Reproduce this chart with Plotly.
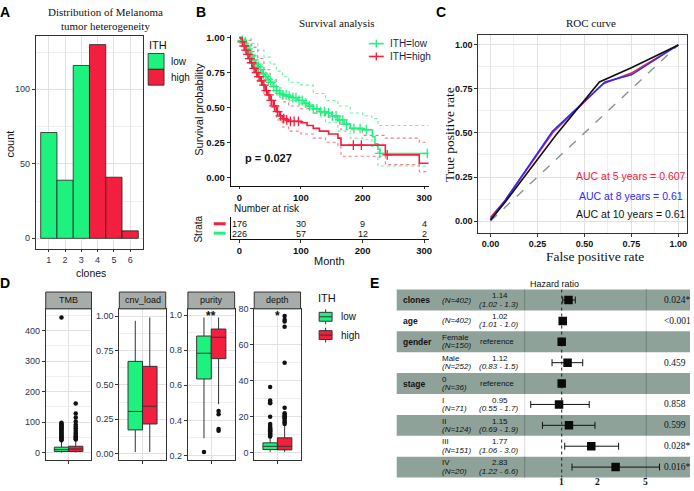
import math
import plotly.graph_objects as go

W, H = 694, 491


def fx(v):
    return v / W


def fy(v):
    return 1 - v / H


GREEN = '#1ef27e'
RED = '#f2203e'
GREEN_CI = '#6ef0a6'
RED_CI = '#f57a8a'
SANS = 'Liberation Sans, Arial, sans-serif'
SERIF = 'Liberation Serif, Times New Roman, serif'
TICK = '#2c3350'
GRID = '#e2e2e2'
MINOR = '#efefef'
FRAME = '#333333'
SHADE = '#8fa29a'

# ---------------- Panel A data ----------------
clones = [1, 2, 3, 4, 5, 6]
clone_counts = [71, 39, 116, 130, 41, 5]
clone_group = ['low', 'low', 'low', 'high', 'high', 'high']

# ---------------- Panel B data (Kaplan-Meier) ----------------
km_low_t = [0, 3, 6, 9, 12, 15, 18, 22, 26, 30, 34, 38, 42, 46, 50, 55, 60, 65, 70, 78, 86, 95,
            105, 112, 120, 130, 140, 150, 160, 170, 180, 200, 216, 220, 225, 228, 310]
km_low_s = [1.0, 0.98, 0.96, 0.94, 0.92, 0.90, 0.87, 0.84, 0.81, 0.79, 0.77, 0.74, 0.72, 0.70,
            0.68, 0.65, 0.62, 0.60, 0.59, 0.58, 0.57, 0.55, 0.53, 0.51, 0.49, 0.47, 0.46, 0.44,
            0.41, 0.38, 0.35, 0.34, 0.29, 0.24, 0.20, 0.17, 0.17]
km_high_t = [0, 3, 6, 9, 12, 15, 18, 22, 26, 30, 34, 38, 42, 46, 50, 55, 60, 65, 70, 75, 80, 90,
             100, 110, 120, 130, 145, 160, 165, 237, 292, 310]
km_high_s = [1.0, 0.97, 0.94, 0.91, 0.88, 0.85, 0.82, 0.78, 0.75, 0.72, 0.69, 0.66, 0.62, 0.59,
             0.55, 0.51, 0.47, 0.44, 0.42, 0.41, 0.40, 0.40, 0.39, 0.37, 0.35, 0.33, 0.31, 0.28,
             0.23, 0.16, 0.10, 0.10]
ci_t = [0, 10, 20, 30, 40, 50, 60, 70, 80, 100, 120, 140, 160, 180, 200, 215, 225, 310]
ci_low_up = [1.0, 0.99, 0.96, 0.91, 0.86, 0.81, 0.76, 0.72, 0.68, 0.66, 0.60, 0.55, 0.51, 0.46,
             0.44, 0.42, 0.37, 0.37]
ci_low_lo = [1.0, 0.95, 0.88, 0.81, 0.75, 0.69, 0.64, 0.58, 0.55, 0.52, 0.46, 0.39, 0.33, 0.28,
             0.27, 0.22, 0.08, 0.08]
ci_high_t = [0, 10, 20, 30, 40, 50, 60, 70, 80, 100, 120, 140, 160, 165, 200, 237, 292, 310]
ci_high_up = [1.0, 0.98, 0.93, 0.85, 0.77, 0.70, 0.60, 0.54, 0.51, 0.49, 0.46, 0.43, 0.40, 0.34,
              0.30, 0.28, 0.25, 0.25]
ci_high_lo = [1.0, 0.88, 0.79, 0.68, 0.59, 0.50, 0.41, 0.36, 0.33, 0.31, 0.28, 0.25, 0.22, 0.15,
              0.15, 0.09, 0.04, 0.04]
censor_low_t = [5, 8, 11, 14, 17, 20, 24, 27, 31, 35, 39, 43, 47, 51, 56, 61, 66, 71, 76, 81, 87,
                92, 97, 102, 108, 114, 120, 126, 132, 138, 145, 151, 157, 163, 168, 174, 186,
                196, 206, 228, 305]
censor_high_t = [5, 8, 11, 14, 17, 20, 24, 28, 32, 36, 40, 44, 48, 52, 57, 62, 67, 72, 77, 83,
                 89, 96, 185, 198, 240]
risk_times = [0, 100, 200, 300]
risk_high = [176, 30, 9, 4]
risk_low = [226, 57, 12, 2]

# ---------------- Panel C data ----------------
roc5_fpr = [0.0, 0.08, 0.33, 0.60, 0.75, 1.0]
roc5_tpr = [0.02, 0.12, 0.50, 0.78, 0.84, 1.0]
roc8_fpr = [0.0, 0.08, 0.33, 0.61, 0.75, 1.0]
roc8_tpr = [0.01, 0.12, 0.51, 0.79, 0.83, 1.0]
roc10_fpr = [0.0, 0.08, 0.35, 0.58, 0.75, 1.0]
roc10_tpr = [0.005, 0.11, 0.49, 0.79, 0.87, 1.0]
auc_labels = ['AUC at 5 years = 0.607', 'AUC at 8 years = 0.61', 'AUC at 10 years = 0.61']

# ---------------- Panel D data (box statistics) ----------------
facets = ['TMB', 'cnv_load', 'purity', 'depth']
box_low = {  # q1, median, q3, lower whisker, upper whisker
    'TMB': [4, 10, 18, 0.3, 39],
    'cnv_load': [0.173, 0.307, 0.671, 0.012, 0.966],
    'purity': [0.636, 0.783, 0.881, 0.298, 0.987],
    'depth': [1.8, 3.6, 5.5, 0.5, 8.6],
}
box_high = {
    'TMB': [4, 12, 21, 0.3, 42],
    'cnv_load': [0.216, 0.345, 0.635, 0.012, 0.99],
    'purity': [0.752, 0.874, 0.921, 0.492, 0.987],
    'depth': [1.6, 3.6, 8.3, 0.5, 15],
}
out_low = {
    'TMB': [443, 98, 95, 92, 89, 86, 83, 80, 77, 74, 71, 68, 65, 62, 59, 56, 53, 50, 47, 44, 41],
    'cnv_load': [],
    'purity': [0.219],
    'depth': [36.5, 29, 28, 27.5, 20, 16, 15, 14, 13.5, 13, 12.5, 12, 11.5, 11, 10.5, 10, 9.5, 9],
}
out_high = {
    'TMB': [161, 128, 115, 102, 92, 86, 80, 74, 68, 63, 58, 54, 50, 46, 43],
    'cnv_load': [],
    'purity': [0.454, 0.435, 0.351, 0.341],
    'depth': [76, 74, 73, 70, 50, 25, 22, 21, 20.5, 20, 19.5, 19, 18, 17, 16],
}
signif = {'TMB': '', 'cnv_load': '', 'purity': '**', 'depth': '*'}

# ---------------- Panel E data (hazard ratios) ----------------
hr_vars = ['clones', 'age', 'gender', '', 'stage', '', '', '', '']
hr_levels = ['', '', 'Female', 'Male', '0', 'I', 'II', 'III', 'IV']
hr_n = ['(N=402)', '(N=402)', '(N=150)', '(N=252)', '(N=36)', '(N=71)', '(N=124)', '(N=151)', '(N=20)']
hr_est = [1.14, 1.02, 1.0, 1.12, 1.0, 0.95, 1.15, 1.77, 2.83]
hr_lo = [1.02, 1.01, None, 0.83, None, 0.55, 0.69, 1.06, 1.22]
hr_hi = [1.3, 1.03, None, 1.5, None, 1.7, 1.9, 3.0, 6.6]
hr_est_text = ['1.14', '1.02', 'reference', '1.12', 'reference', '0.95', '1.15', '1.77', '2.83']
hr_ci_text = ['(1.02 - 1.3)', '(1.01 - 1.0)', '', '(0.83 - 1.5)', '', '(0.55 - 1.7)',
              '(0.69 - 1.9)', '(1.06 - 3.0)', '(1.22 - 6.6)']
hr_p = ['0.024*', '<0.001', '', '0.459', '', '0.858', '0.599', '0.028*', '0.016*']
hr_ticks = [1, 2, 5]

fig = go.Figure()
ann = []
shapes = []

# ================= Panel A =================
fig.add_trace(go.Bar(
    x=clones, y=clone_counts, width=1,
    marker=dict(color=[GREEN if g == 'low' else RED for g in clone_group],
                line=dict(color='#222222', width=0.8)),
    xaxis='x', yaxis='y'))
ann += [
    dict(x=fx(106), y=fy(7), text='Distribution of Melanoma', font=dict(family=SERIF, size=11, color='#111')),
    dict(x=fx(106), y=fy(21), text='tumor heterogeneity', font=dict(family=SERIF, size=11, color='#111')),
    dict(x=fx(92), y=fy(271), text='clones', font=dict(size=10.5, color='#111')),
    dict(x=fx(10), y=fy(140), text='count', textangle=-90, font=dict(size=11, color='#111')),
    dict(x=fx(148), y=fy(40), text='ITH', xanchor='left', font=dict(size=11, color='#111')),
    dict(x=fx(170), y=fy(57), text='low', xanchor='left', font=dict(size=10, color='#111')),
    dict(x=fx(170), y=fy(73), text='high', xanchor='left', font=dict(size=10, color='#111')),
]
shapes += [
    dict(type='rect', xref='paper', yref='paper', x0=fx(149), x1=fx(165), y0=fy(49), y1=fy(65),
         fillcolor=GREEN, line=dict(color='#222', width=0.8)),
    dict(type='rect', xref='paper', yref='paper', x0=fx(149), x1=fx(165), y0=fy(65), y1=fy(81),
         fillcolor=RED, line=dict(color='#222', width=0.8)),
]


# ================= Panel B =================
def step_at(ts, ss, t):
    val = ss[0]
    for ti, si in zip(ts, ss):
        if ti <= t:
            val = si
    return val


for t, s, col, dash, w in [
    (ci_t, ci_low_up, GREEN_CI, 'dot', 1.1), (ci_t, ci_low_lo, GREEN_CI, 'dot', 1.1),
    (ci_high_t, ci_high_up, RED_CI, 'dot', 1.1), (ci_high_t, ci_high_lo, RED_CI, 'dot', 1.1),
    (km_low_t, km_low_s, GREEN, 'solid', 1.6), (km_high_t, km_high_s, RED, 'solid', 1.6),
]:
    fig.add_trace(go.Scatter(x=t, y=s, mode='lines', line=dict(color=col, dash=dash, width=w, shape='hv'),
                             xaxis='x2', yaxis='y2', hoverinfo='skip'))
for ct, t, s, col in [(censor_low_t, km_low_t, km_low_s, GREEN), (censor_high_t, km_high_t, km_high_s, RED)]:
    fig.add_trace(go.Scatter(x=ct, y=[step_at(t, s, c) for c in ct], mode='markers',
                             marker=dict(symbol='cross-thin', size=7, line=dict(color=col, width=1.3)),
                             xaxis='x2', yaxis='y2'))
# legend inside B
for yy, col, lab in [(39, GREEN, 'ITH=low'), (52, RED, 'ITH=high')]:
    shapes.append(dict(type='line', xref='paper', yref='paper', x0=fx(371), x1=fx(386), y0=fy(yy), y1=fy(yy),
                       line=dict(color=col, width=1.6)))
    shapes.append(dict(type='line', xref='paper', yref='paper', x0=fx(378.5), x1=fx(378.5), y0=fy(yy - 4),
                       y1=fy(yy + 4), line=dict(color=col, width=1.4)))
    ann.append(dict(x=fx(390), y=fy(yy), text=lab, xanchor='left', font=dict(size=10, color='#1c2548')))
ann += [
    dict(x=fx(338), y=fy(18), text='Survival analysis', font=dict(family=SERIF, size=11, color='#111')),
    dict(x=fx(244), y=fy(155), text='<b>p = 0.027</b>', xanchor='left', font=dict(size=11, color='#111')),
    dict(x=fx(200), y=fy(105), text='Survival probability', textangle=-90, font=dict(size=11, color='#111')),
    dict(x=fx(233), y=fy(205.5), text='Number at risk', xanchor='left', font=dict(size=10, color='#111')),
    dict(x=fx(200), y=fy(226), text='Strata', textangle=-90, font=dict(size=10, color='#111')),
    dict(x=fx(331), y=fy(259), text='Month', font=dict(size=11, color='#111')),
]
for tt, nh, nl in zip(risk_times, risk_high, risk_low):
    ann.append(dict(x=tt, xref='x3', y=fy(221), text=str(nh), font=dict(size=9, color='#111')))
    ann.append(dict(x=tt, xref='x3', y=fy(231.5), text=str(nl), font=dict(size=9, color='#111')))
shapes += [
    dict(type='line', xref='paper', yref='paper', x0=fx(215), x1=fx(227), y0=fy(221), y1=fy(221),
         line=dict(color=RED, width=3)),
    dict(type='line', xref='paper', yref='paper', x0=fx(215), x1=fx(227), y0=fy(230.5), y1=fy(230.5),
         line=dict(color=GREEN, width=3)),
]

# ================= Panel C =================
fig.add_trace(go.Scatter(x=[0, 1], y=[0, 1], mode='lines', line=dict(color='#8a9090', dash='dash', width=1.4),
                         xaxis='x4', yaxis='y4'))
for xs, ys, col in [(roc5_fpr, roc5_tpr, RED), (roc8_fpr, roc8_tpr, '#2b2bff'), (roc10_fpr, roc10_tpr, '#111111')]:
    fig.add_trace(go.Scatter(x=xs, y=ys, mode='lines', line=dict(color=col, width=1.6), xaxis='x4', yaxis='y4'))
for lab, col, yy in zip(auc_labels, [RED, '#2b2bff', '#111111'], [173, 193, 211]):
    ann.append(dict(x=fx(635), y=fy(yy), text=lab, font=dict(size=10.5, color=col)))
ann += [
    dict(x=fx(594), y=fy(18), text='ROC curve', font=dict(family=SERIF, size=11, color='#111')),
    dict(x=fx(598), y=fy(254), text='False positive rate', font=dict(family=SERIF, size=13.5, color='#111')),
    dict(x=fx(452), y=fy(131), text='True positive rate', textangle=-90,
         font=dict(family=SERIF, size=13.5, color='#111')),
]

# ================= Panel D =================
facet_px = {'TMB': (46, 92), 'cnv_load': (120, 166.7), 'purity': (189, 236), 'depth': (255.7, 302.3)}
facet_ax = {'TMB': 5, 'cnv_load': 6, 'purity': 7, 'depth': 8}
facet_rng = {'TMB': [-25, 471], 'cnv_load': [-0.048, 1.0525], 'purity': [0.172, 1.036], 'depth': [-4.2, 80]}
facet_dtick = {'TMB': 100, 'cnv_load': 0.25, 'purity': 0.2, 'depth': 20}
facet_fmt = {'TMB': 'd', 'cnv_load': '.2f', 'purity': '.1f', 'depth': 'd'}
for f in facets:
    k = facet_ax[f]
    for stats, outs, pos, col in [(box_low[f], out_low[f], 0.8125, GREEN), (box_high[f], out_high[f], 1.1875, RED)]:
        q1, med, q3, lf, uf = stats
        fig.add_trace(go.Box(x=[pos], q1=[q1], median=[med], q3=[q3], lowerfence=[lf], upperfence=[uf],
                             width=0.375, whiskerwidth=0, fillcolor=col, line=dict(color='#333', width=1),
                             boxpoints=False, xaxis='x%d' % k, yaxis='y%d' % k))
        if outs:
            fig.add_trace(go.Scatter(x=[pos] * len(outs), y=outs, mode='markers',
                                     marker=dict(color='#111', size=4.5), xaxis='x%d' % k, yaxis='y%d' % k))
    x0, x1 = facet_px[f]
    shapes.append(dict(type='rect', xref='paper', yref='paper', x0=fx(x0), x1=fx(x1), y0=fy(307), y1=fy(290),
                       fillcolor='#a6aca9', line=dict(color=FRAME, width=1)))
    ann.append(dict(x=fx((x0 + x1) / 2), y=fy(298.5), text=f, font=dict(size=9, color='#111')))
    if signif[f]:
        ann.append(dict(x=1, xref='x%d' % k, y=fy(314), text='<b>%s</b>' % signif[f],
                        font=dict(size=12, color='#111')))
ann.append(dict(x=fx(318), y=fy(296), text='ITH', xanchor='left', font=dict(size=11, color='#111')))
for yy, col, lab in [(315, GREEN, 'low'), (333.5, RED, 'high')]:
    shapes.append(dict(type='line', xref='paper', yref='paper', x0=fx(327.5), x1=fx(327.5), y0=fy(yy - 7.5),
                       y1=fy(yy + 7.5), line=dict(color='#333', width=1)))
    shapes.append(dict(type='rect', xref='paper', yref='paper', x0=fx(321), x1=fx(334), y0=fy(yy - 4.5),
                       y1=fy(yy + 4.5), fillcolor=col, line=dict(color='#333', width=1)))
    shapes.append(dict(type='line', xref='paper', yref='paper', x0=fx(321), x1=fx(334), y0=fy(yy), y1=fy(yy),
                       line=dict(color='#333', width=1)))
    ann.append(dict(x=fx(341), y=fy(yy), text=lab, xanchor='left', font=dict(size=10, color='#111')))

# ================= Panel E =================
E_TOP, E_ROW = 287.5, 21.1
n_rows = len(hr_est)
for i in range(n_rows):
    ya, yb = E_TOP + i * E_ROW, E_TOP + (i + 1) * E_ROW
    shaded = (i % 2 == 0)
    if shaded:
        shapes.append(dict(type='rect', xref='paper', yref='paper', x0=fx(399), x1=1, y0=fy(yb), y1=fy(ya),
                           fillcolor=SHADE, line=dict(width=0), layer='below'))
    for sx in (527.7, 650):
        shapes.append(dict(type='line', xref='paper', yref='paper', x0=fx(sx), x1=fx(sx), y0=fy(yb), y1=fy(ya),
                           line=dict(color='#6f817a' if shaded else '#dddddd', width=1), layer='below'))
ci_x, ci_y, cap_x, cap_y = [], [], [], []
for i, (lo, hi) in enumerate(zip(hr_lo, hr_hi)):
    if lo is not None:
        ci_x += [lo, hi, None]
        ci_y += [i + 1, i + 1, None]
        cap_x += [lo, hi]
        cap_y += [i + 1, i + 1]
fig.add_trace(go.Scatter(x=[1, 1], y=[0.5, n_rows + 0.5], mode='lines', line=dict(color='#222', dash='dot', width=1),
                         xaxis='x9', yaxis='y9'))
fig.add_trace(go.Scatter(x=ci_x, y=ci_y, mode='lines', line=dict(color='#111', width=1), xaxis='x9', yaxis='y9'))
fig.add_trace(go.Scatter(x=cap_x, y=cap_y, mode='markers', marker=dict(symbol='line-ns', size=5,
                                                                        line=dict(color='#111', width=1)),
                         xaxis='x9', yaxis='y9'))
fig.add_trace(go.Scatter(x=hr_est, y=list(range(1, n_rows + 1)), mode='markers',
                         marker=dict(symbol='square', size=8.5, color='#0a0a0a'), xaxis='x9', yaxis='y9'))
EF = 8
for i in range(n_rows):
    r = i + 1
    if hr_vars[i]:
        ann.append(dict(x=fx(403), y=r, yref='y9', text='<b>%s</b>' % hr_vars[i], xanchor='left',
                        font=dict(size=8.5, color='#111')))
    if hr_levels[i]:
        ann.append(dict(x=fx(443), y=r, yref='y9', yshift=4.3, text=hr_levels[i], xanchor='left',
                        font=dict(size=EF, color='#111')))
        ann.append(dict(x=fx(443), y=r, yref='y9', yshift=-4, text='<i>%s</i>' % hr_n[i], xanchor='left',
                        font=dict(size=EF, color='#111')))
    else:
        ann.append(dict(x=fx(443), y=r, yref='y9', text='<i>%s</i>' % hr_n[i], xanchor='left',
                        font=dict(size=EF, color='#111')))
    if hr_ci_text[i]:
        ann.append(dict(x=fx(503), y=r, yref='y9', yshift=4.3, text=hr_est_text[i], font=dict(size=EF, color='#111')))
        ann.append(dict(x=fx(501), y=r, yref='y9', yshift=-4, text='<i>%s</i>' % hr_ci_text[i],
                        font=dict(size=EF, color='#111')))
    else:
        ann.append(dict(x=fx(500), y=r, yref='y9', text=hr_est_text[i], font=dict(size=EF, color='#111')))
    if hr_p[i]:
        ann.append(dict(x=fx(666), y=r, yref='y9', text=hr_p[i], xanchor='left',
                        font=dict(family=SERIF, size=9.5, color='#111')))
for tv in hr_ticks:
    ann.append(dict(x=math.log10(tv), xref='x9', y=fy(482), text='<b>%d</b>' % tv,
                    font=dict(family=SERIF, size=9.5, color='#111')))
ann.append(dict(x=fx(558), y=fy(282), text='Hazard ratio', font=dict(size=9, color='#111')))

# panel letters
for lab, xx, yy in [('A', 5, 7), ('B', 202, 7), ('C', 444, 7), ('D', 5, 281), ('E', 377, 281)]:
    ann.append(dict(x=fx(xx), y=fy(yy), text='<b>%s</b>' % lab, font=dict(size=14, color='#000')))

for a in ann:
    a.setdefault('xref', 'paper')
    a.setdefault('yref', 'paper')
    a.setdefault('showarrow', False)
    a.setdefault('xanchor', 'center')
    a.setdefault('yanchor', 'middle')


def frame_axis(domain, rng, anchor, dtick, tick0=0, fmt=None, minor=None, font=None, grid=True, mirror=True):
    d = dict(domain=domain, range=rng, anchor=anchor, tickmode='linear', tick0=tick0, dtick=dtick,
             showgrid=grid, gridcolor=GRID, gridwidth=1, zeroline=False, showline=True, mirror=mirror,
             linecolor=FRAME, linewidth=1, ticks='outside', ticklen=3, tickcolor=FRAME,
             tickfont=font or dict(size=9, color=TICK))
    if fmt:
        d['tickformat'] = fmt
    if minor:
        d['minor'] = dict(dtick=minor, tick0=tick0, showgrid=True, gridcolor=MINOR, gridwidth=0.6, ticks='')
    return d


layout = dict(width=W, height=H, margin=dict(l=0, r=0, t=0, b=0), paper_bgcolor='white',
              plot_bgcolor='rgba(0,0,0,0)', showlegend=False, barmode='overlay', hovermode=False,
              font=dict(family=SANS, size=10, color='#111'), annotations=ann, shapes=shapes)

# A
layout['xaxis'] = frame_axis([fx(36), fx(144)], [0.2, 6.8], 'y', 1, tick0=1)
layout['xaxis']['ticklen'] = 2
layout['yaxis'] = frame_axis([fy(247), fy(31)], [-7.5, 136], 'x', 50, minor=25)
# B
bfont = dict(size=9.5, color='#111', weight='bold')
layout['xaxis2'] = frame_axis([fx(232), fx(431)], [-14, 307], 'y2', 100, grid=False, mirror=False, font=bfont)
layout['xaxis2']['linecolor'] = '#111'
layout['xaxis2']['ticklen'] = 2
layout['yaxis2'] = frame_axis([fy(183), fy(30)], [-0.064, 1.021], 'x2', 0.25, fmt='.2f', grid=False,
                              mirror=False, font=bfont)
layout['yaxis2']['linecolor'] = '#111'
layout['xaxis3'] = frame_axis([fx(232), fx(431)], [-14, 307], 'y3', 100, grid=False, mirror=False, font=bfont)
layout['xaxis3']['linecolor'] = '#111'
layout['yaxis3'] = dict(domain=[fy(236.5), fy(214)], range=[0, 1], anchor='x3', showline=True, linecolor='#111',
                        showgrid=False, zeroline=False, showticklabels=False, ticks='')
# C
cfont = dict(size=9, color='#111', weight='bold')
layout['xaxis4'] = frame_axis([fx(481), fx(691)], [-0.065, 1.046], 'y4', 0.25, fmt='.2f', minor=0.125, font=cfont)
layout['yaxis4'] = frame_axis([fy(230), fy(30)], [-0.066, 1.058], 'x4', 0.25, fmt='.2f', minor=0.125, font=cfont)
# D
for f in facets:
    k = facet_ax[f]
    x0, x1 = facet_px[f]
    layout['xaxis%d' % k] = frame_axis([fx(x0), fx(x1)], [0.4, 1.6], 'y%d' % k, 1, tick0=1)
    layout['xaxis%d' % k]['showticklabels'] = False
    dt = facet_dtick[f]
    t0 = 0.2 if f == 'purity' else 0
    layout['yaxis%d' % k] = frame_axis([fy(460), fy(307)], facet_rng[f], 'x%d' % k, dt, tick0=t0,
                                       fmt=facet_fmt[f], minor=dt / 2)
# E
layout['xaxis9'] = dict(domain=[fx(528), fx(693)], type='log', range=[-0.308, 1.067], anchor='y9',
                        showgrid=False, zeroline=False, showline=False, showticklabels=False, ticks='')
layout['yaxis9'] = dict(domain=[fy(E_TOP + n_rows * E_ROW), fy(E_TOP)], range=[n_rows + 0.5, 0.5], anchor='x9',
                        showgrid=False, zeroline=False, showline=False, showticklabels=False, ticks='')

fig.update_layout(**layout)
fig.write_html('out.html', config={'displayModeBar': False},
               post_script="document.body.style.margin='0px';document.body.style.overflow='hidden';")
